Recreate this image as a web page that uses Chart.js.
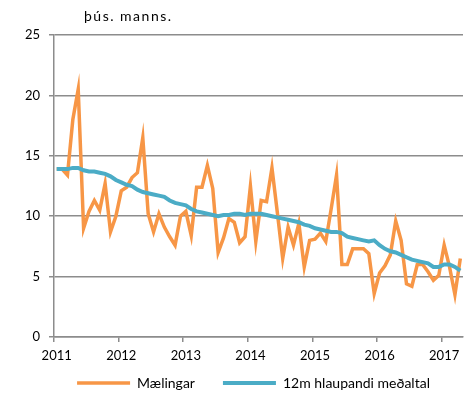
<!DOCTYPE html>
<html>
<head>
<meta charset="utf-8">
<script src="https://cdn.jsdelivr.net/npm/chart.js@4"></script>
<style>html,body{margin:0;padding:0;background:#fff}</style>
</head>
<body>
<canvas id="chart" width="473" height="400"></canvas>
<script>
// Mánaðarlegar mælingar, jan 2011 - apr 2017
const yearTicks = ['2011', '2012', '2013', '2014', '2015', '2016', '2017'];
const months = [];
for (let y = 2011; y <= 2017; y++) {
    for (let m = 1; m <= 12; m++) months.push(y + '-' + m);
}
months.length = 76;

const maelingar = [
    13.9, 13.9, 13.4, 18.0, 20.5, 9.0, 10.4, 11.3, 10.5, 12.7, 8.7, 10.0,
    12.1, 12.4, 13.2, 13.6, 16.5, 10.2, 8.7, 10.2, 9.1, 8.3, 7.6, 10.0,
    10.4, 8.4, 12.4, 12.4, 14.2, 12.3, 7.0, 8.2, 9.8, 9.5, 7.8, 8.3,
    12.5, 7.9, 11.3, 11.2, 14.0, 10.3, 6.5, 9.1, 7.6, 9.4, 5.8, 8.0,
    8.1, 8.6, 7.9, 10.6, 13.4, 6.0, 6.0, 7.3, 7.3, 7.3, 6.9, 3.6,
    5.3, 5.9, 6.8, 9.6, 8.0, 4.4, 4.2, 6.0, 6.0, 5.4, 4.7, 5.1,
    7.6, 5.8, 3.5, 6.5
];
const medaltal = [
    13.9, 13.9, 13.9, 14.0, 14.0, 13.8, 13.7, 13.7, 13.6, 13.5, 13.3, 13.0,
    12.8, 12.6, 12.5, 12.2, 12.0, 11.9, 11.8, 11.7, 11.6, 11.3, 11.1, 11.0,
    10.9, 10.6, 10.4, 10.3, 10.2, 10.1, 10.0, 10.1, 10.1, 10.2, 10.2, 10.1,
    10.2, 10.2, 10.2, 10.1, 10.0, 9.9, 9.8, 9.7, 9.6, 9.5, 9.3, 9.2,
    9.0, 8.9, 8.8, 8.7, 8.7, 8.6, 8.3, 8.2, 8.1, 8.0, 7.9, 8.0,
    7.6, 7.3, 7.1, 7.0, 6.8, 6.6, 6.4, 6.3, 6.2, 6.1, 5.8, 5.8,
    6.0, 6.0, 5.8, 5.5
];

const gridGray = '#8c8c8c';
Chart.defaults.font.family = 'Lato';
Chart.defaults.font.size = 13;
Chart.defaults.color = '#000';

// eining efst til vinstri
const unitLabel = {
    id: 'unitLabel',
    afterDraw(chart) {
        const c = chart.ctx;
        c.save();
        c.font = '14px Lato';
        c.letterSpacing = '1.5px';
        c.fillStyle = '#000';
        c.textBaseline = 'middle';
        c.fillText('þús. manns.', 84, 16);
        c.restore();
    }
};

// færa skýringar aðeins upp og til hægri (legend padding er stórt til að fá bil milli atriða)
const legendShift = {
    id: 'legendShift',
    afterLayout(chart) {
        const lg = chart.legend;
        lg.top -= 17; lg.bottom -= 17;
        lg.left += 22; lg.right += 22;
    }
};

const ctx = document.getElementById('chart').getContext('2d');
new Chart(ctx, {
    type: 'line',
    data: {
        labels: months,
        datasets: [{
            label: '12m hlaupandi meðaltal',
            data: medaltal,
            borderColor: '#4bacc6',
            backgroundColor: '#4bacc6',
            borderWidth: 4,
            pointRadius: 0,
            tension: 0
        }, {
            label: 'Mælingar',
            data: maelingar,
            borderColor: '#f79646',
            backgroundColor: '#f79646',
            borderWidth: 3.5,
            pointRadius: 0,
            tension: 0
        }]
    },
    options: {
        responsive: false,
        animation: false,
        layout: { padding: { top: 35, right: 10, left: 0, bottom: -17 } },
        scales: {
            y: {
                min: 0,
                max: 25,
                ticks: { stepSize: 5, padding: 9 },
                grid: { color: gridGray, lineWidth: 1.5, tickLength: 5 },
                border: { color: gridGray, width: 1.5 },
                afterFit: s => { s.width = 54; }
            },
            x: {
                offset: true,
                grid: {
                    offset: true,
                    drawOnChartArea: false,
                    tickLength: 5,
                    lineWidth: 1.5,
                    color: c => (c.index % 12 === 0 ? gridGray : 'rgba(0,0,0,0)')
                },
                border: { color: gridGray, width: 1.5 },
                ticks: {
                    autoSkip: false,
                    maxRotation: 0,
                    minRotation: 0,
                    padding: 6,
                    callback: (v, i) => (i % 12 === 0 ? yearTicks[i / 12] : '')
                },
                afterFit: s => { s.height = 28; }
            }
        },
        plugins: {
            legend: {
                position: 'bottom',
                reverse: true,
                labels: {
                    usePointStyle: true,
                    pointStyle: 'line',
                    pointStyleWidth: 53,
                    boxHeight: 13,
                    padding: 28,
                    font: { size: 14 }
                }
            },
            tooltip: { enabled: false }
        }
    },
    plugins: [unitLabel, legendShift]
});
</script>
</body>
</html>
